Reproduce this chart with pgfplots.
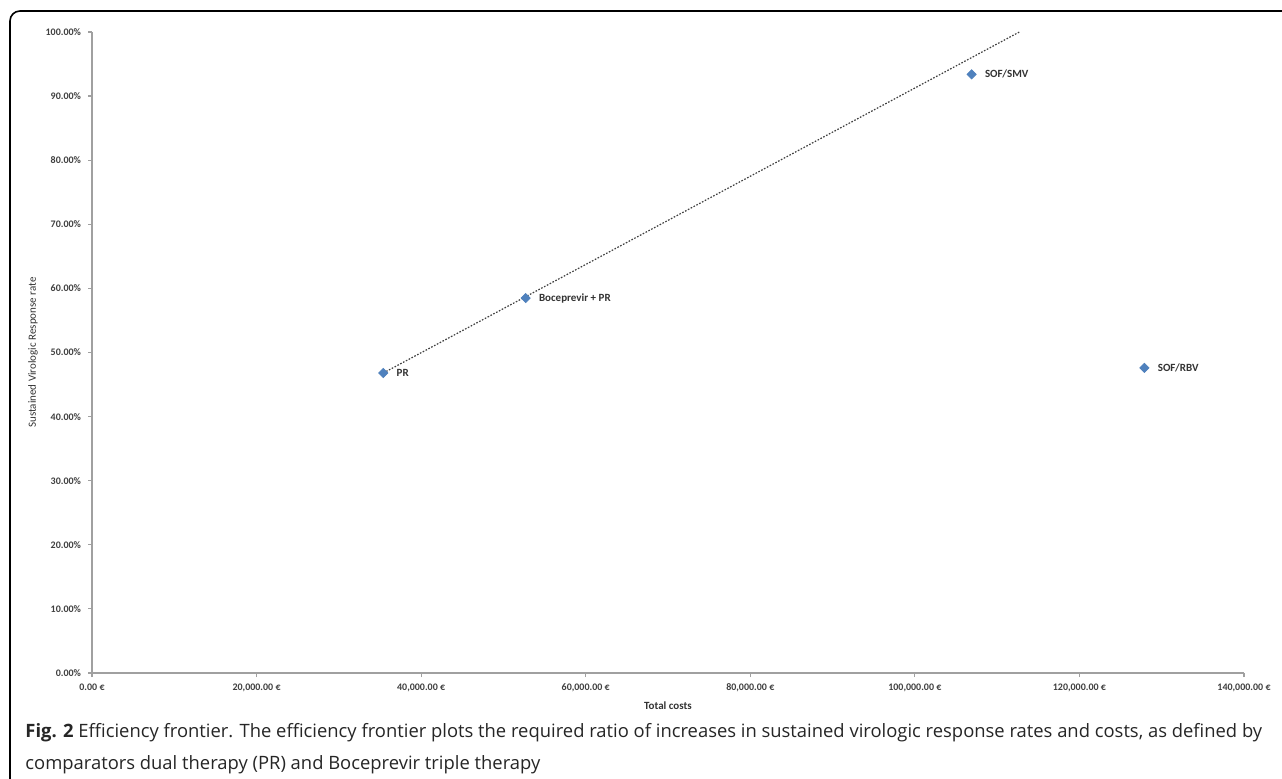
\documentclass[border=0pt]{standalone}
\usepackage{fontspec}
\setmainfont{Carlito}
\newfontfamily\capfont{Open Sans}
\usepackage{pgfplots}
\pgfplotsset{compat=1.18}
\definecolor{xlblue}{RGB}{79,129,189}
\definecolor{axgray}{RGB}{160,160,160}

\begin{document}
\begin{tikzpicture}
\useasboundingbox (0,0) rectangle (641pt,389pt);
\fill[white] (0,0) rectangle (641pt,389pt);
% frame of the figure, runs off the page at right and bottom
\draw[line width=0.8pt, rounded corners=5pt] (5pt,-20pt) -- (5pt,383.5pt) -- (670pt,383.5pt);

\begin{axis}[
  at={(46pt,52.5pt)}, anchor=south west,
  scale only axis, width=576pt, height=320.5pt,
  xmin=0, xmax=140000, ymin=0, ymax=100,
  axis lines=left,
  axis line style={draw=axgray, -, line width=0.6pt},
  xtick={0,20000,40000,60000,80000,100000,120000,140000},
  ytick={0,10,...,100},
  tick style={draw=axgray, line width=0.6pt},
  tick align=outside, major tick length=2pt,
  scaled ticks=false,
  /pgf/number format/assume math mode=true,
  xticklabel={\pgfmathprintnumber[fixed,fixed zerofill,precision=2,1000 sep={,}]{\tick}~€},
  yticklabel={\pgfmathprintnumber[fixed,fixed zerofill,precision=2]{\tick}\%},
  ticklabel style={font=\bfseries\fontsize{5}{6}\selectfont, text=black!75},
  xlabel={Total costs},
  ylabel={Sustained Virologic Response rate},
  xlabel style={at={(axis description cs:0.5,-0.0515)}, anchor=center,
    font=\bfseries\fontsize{5.5}{6}\selectfont, text=black!80},
  ylabel style={at={(axis description cs:-0.0512,0.5)}, anchor=center,
    font=\fontsize{5.5}{6}\selectfont, text=black!80},
  clip=false,
]
\addplot[black!75, line width=0.6pt, dash pattern=on 0.8pt off 0.8pt]
  coordinates {(35400,46.8) (112700,100)};
\addplot[only marks, mark=square*, mark size=1.6pt, color=xlblue,
  mark options={rotate=45},
  nodes near coords, point meta=explicit symbolic,
  every node near coord/.style={anchor=west, xshift=5.5pt, inner sep=1pt,
    font=\bfseries\fontsize{5.5}{6}\selectfont, text=black!80}]
  table[col sep=comma, meta=label] {
x,y,label
35400,46.8,PR
52700,58.5,Boceprevir + PR
106900,93.4,SOF/SMV
127900,47.6,SOF/RBV
};
\end{axis}

\node[anchor=west, inner sep=0, font=\capfont\fontsize{9.2}{10}\selectfont, text=black!85]
  at (12.5pt,22.5pt) {\textbf{Fig. 2} Efficiency frontier. The efficiency frontier plots the required ratio of increases in sustained virologic response rates and costs, as defined by};
\node[anchor=west, inner sep=0, font=\capfont\fontsize{9.2}{10}\selectfont, text=black!85]
  at (12.5pt,6.5pt) {comparators dual therapy (PR) and Boceprevir triple therapy};
\end{tikzpicture}
\end{document}
